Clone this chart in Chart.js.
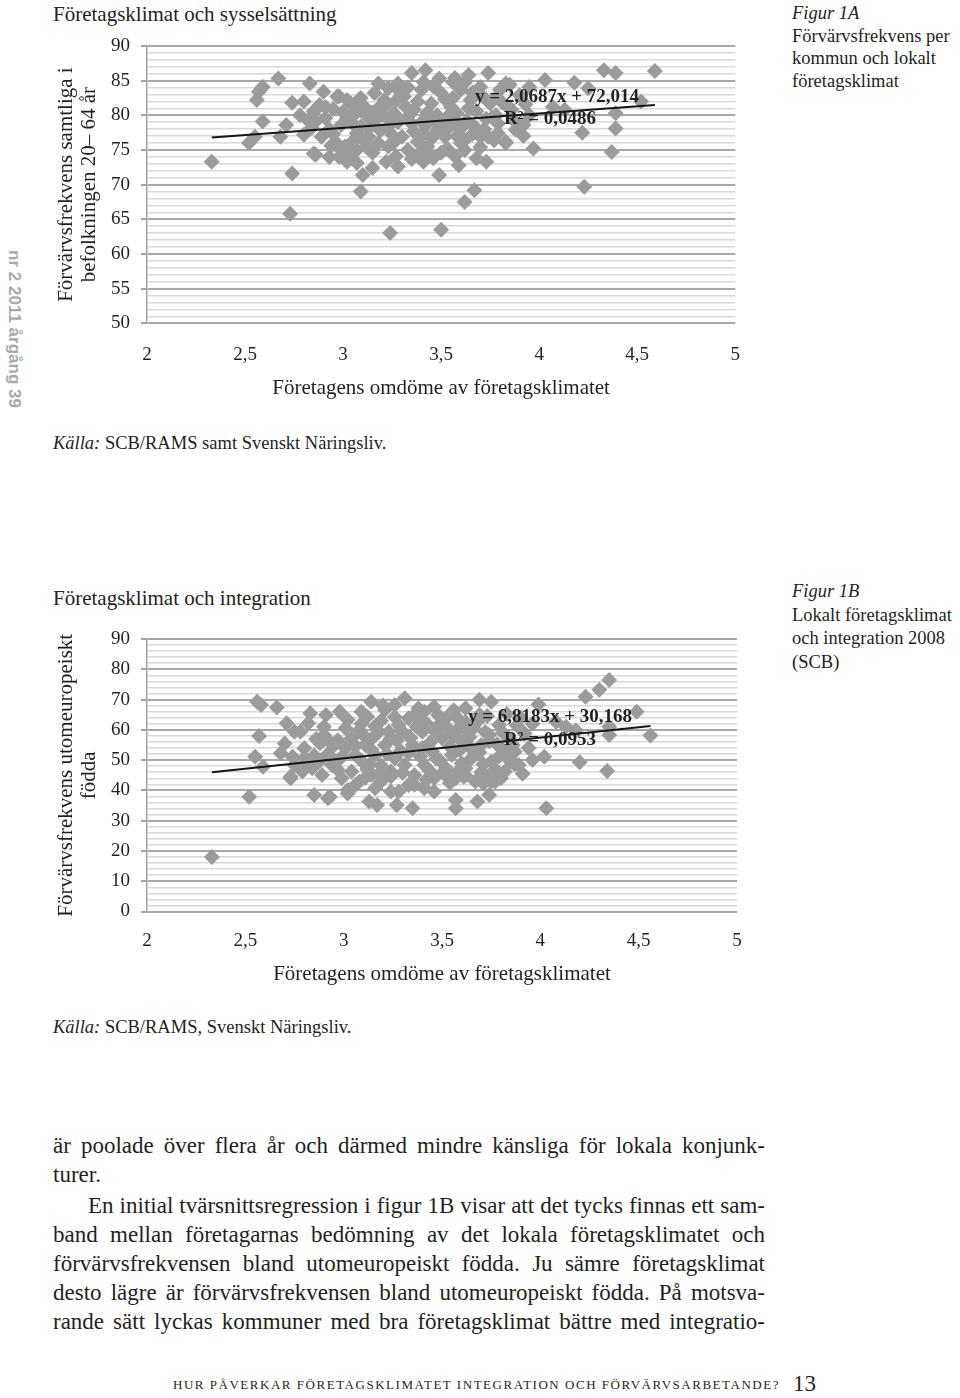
<!DOCTYPE html>
<html lang="sv">
<head>
<meta charset="utf-8">
<title>Figur 1A och 1B</title>
<script src="https://cdn.jsdelivr.net/npm/chart.js@4.4.0/dist/chart.umd.min.js"></script>
<style>
  html, body { margin: 0; padding: 0; background: #fff; }
  body { width: 960px; height: 1398px; position: relative; overflow: hidden;
         font-family: 'Liberation Serif', 'DejaVu Serif', serif; color: #231f20; }
  .abs { position: absolute; white-space: nowrap; }
  canvas { position: absolute; left: 0; }
  .eq { position: absolute; font-weight: bold; font-size: 19px; line-height: 22px;
        transform: translate(-50%, -50%); white-space: nowrap; z-index: 2; }
  .side { position: absolute; left: 792px; font-size: 18.5px; line-height: 22.7px; white-space: nowrap; }
  .line { position: absolute; left: 53px; width: 712px; font-size: 23px; line-height: 28px;
          text-align: justify; text-align-last: justify; white-space: nowrap; }
</style>
</head>
<body>

<div class="abs" style="left:14px;top:329px;transform:translate(-50%,-50%) rotate(90deg);font-family:'Liberation Sans',Arial,sans-serif;font-weight:bold;font-size:17px;color:#a7a9ac;">nr 2 2011 årgång 39</div>

<div class="abs" style="left:53px;top:2px;font-size:21px;line-height:24px;">Företagsklimat och sysselsättning</div>
<canvas id="c1" width="760" height="410" style="top:0"></canvas>
<div class="eq" style="left:557px;top:96px;">y = 2,0687x + 72,014</div>
<div class="eq" style="left:550px;top:118px;">R² = 0,0486</div>
<div class="side" style="top:2px;"><i>Figur 1A</i><br>Förvärvsfrekvens per<br>kommun och lokalt<br>företagsklimat</div>
<div class="abs" style="left:53px;top:431px;font-size:18.5px;line-height:24px;"><i>Källa:</i> SCB/RAMS samt Svenskt Näringsliv.</div>

<div class="abs" style="left:53px;top:586px;font-size:21px;line-height:24px;">Företagsklimat och integration</div>
<canvas id="c2" width="760" height="410" style="top:590px"></canvas>
<div class="eq" style="left:550px;top:716px;">y = 6,8183x + 30,168</div>
<div class="eq" style="left:550px;top:739px;">R² = 0,0953</div>
<div class="side" style="top:580px;line-height:23.7px;"><i>Figur 1B</i><br>Lokalt företagsklimat<br>och integration 2008<br>(SCB)</div>
<div class="abs" style="left:53px;top:1015px;font-size:18.5px;line-height:24px;"><i>Källa:</i> SCB/RAMS, Svenskt Näringsliv.</div>

<div class="line" style="top:1132px;">är poolade över flera år och därmed mindre känsliga för lokala konjunk-</div>
<div class="line" style="top:1161px;text-align:left;text-align-last:left;">turer.</div>
<div class="line" style="top:1192px;left:88px;width:677px;">En initial tvärsnittsregression i figur 1B visar att det tycks finnas ett sam-</div>
<div class="line" style="top:1221px;">band mellan företagarnas bedömning av det lokala företagsklimatet och</div>
<div class="line" style="top:1250px;">förvärvsfrekvensen bland utomeuropeiskt födda. Ju sämre företagsklimat</div>
<div class="line" style="top:1279px;">desto lägre är förvärvsfrekvensen bland utomeuropeiskt födda. På motsva-</div>
<div class="line" style="top:1308px;">rande sätt lyckas kommuner med bra företagsklimat bättre med integratio-</div>

<div id="foot" class="abs" style="left:173px;top:1377px;font-size:13px;line-height:16px;">HUR PÅVERKAR FÖRETAGSKLIMATET INTEGRATION OCH FÖRVÄRVSARBETANDE?</div>
<div class="abs" style="left:793px;top:1371px;font-size:23px;line-height:26px;">13</div>

<script>
// Figur 1A: företagens omdöme (x) mot förvärvsfrekvens 20-64 år (y)
var SYSS_PTS = [
  [2.33,73.3],[2.52,76.0],[2.55,76.9],[2.59,79.1],[2.56,82.2],[2.57,83.4],[2.59,84.1],[2.67,85.3],
  [2.74,81.8],[2.71,78.6],[2.68,76.9],[2.74,71.6],[2.73,65.8],[2.83,84.6],[2.90,83.4],[2.88,81.3],
  [2.91,81.2],[2.97,82.7],[3.02,82.2],[3.08,82.2],[3.11,81.2],[2.85,74.5],[2.93,74.0],[2.98,74.0],
  [3.02,73.3],[3.07,73.1],[3.10,71.4],[3.09,69.0],[3.15,72.4],[3.23,83.9],[3.22,73.3],[3.28,72.6],
  [3.35,86.1],[3.42,86.5],[3.49,85.3],[3.24,63.0],[3.50,63.5],[3.41,73.3],[3.46,73.8],[3.49,71.4],
  [3.62,67.5],[3.67,69.2],[3.59,72.8],[3.68,73.8],[3.73,73.3],[3.64,85.8],[3.74,86.1],[3.83,84.6],
  [3.83,76.0],[4.03,85.1],[4.18,84.7],[4.33,86.5],[4.39,86.1],[4.59,86.4],[4.52,82.0],[4.39,80.3],
  [4.39,78.1],[4.22,77.5],[3.97,75.2],[4.37,74.7],[4.23,69.7],[3.77,76.4],[3.70,76.9],[3.88,77.9],
  [3.92,78.6],[4.07,81.2],[4.13,80.8],[3.95,84.1],[3.85,84.4],[3.84,81.2],[3.29,83.4],[3.09,82.5],
  [4.25,83.9],
  [2.78,80.0],[2.82,79.3],[2.86,79.1],[2.91,79.6],[2.80,77.2],[2.89,76.9],[2.86,74.3],[2.99,75.0],
  [2.98,82.7],[3.04,81.7],[2.88,81.5],[2.96,76.2],[3.01,75.5],[3.04,76.0],[3.04,74.3],[2.99,78.6],
  [3.02,79.8],[3.07,77.4],
  [3.16,79.3],[3.13,76.9],[3.21,82.2],[3.26,80.3],[3.31,82.7],[3.36,80.8],[3.40,83.7],[3.45,81.7],
  [3.50,83.2],[3.55,81.2],[3.60,83.7],[3.65,82.2],[3.70,84.1],[3.75,81.7],[3.80,83.7],[3.23,78.4],
  [3.30,76.9],[3.35,78.8],[3.41,77.4],[3.46,79.3],[3.52,76.9],[3.57,78.8],[3.62,76.4],[3.67,78.4],
  [3.74,76.9],[3.79,78.8],[3.83,76.2],[3.23,75.5],[3.33,75.0],[3.43,75.5],[3.53,75.2],[3.62,75.0],
  [3.18,76.0],[3.07,75.0],[3.09,78.4],[3.28,84.6],[3.16,83.2],
  [3.18,81.0],[3.28,79.0],[3.38,82.0],[3.48,80.0],[3.58,80.3],[3.68,80.6],[3.78,80.0],[3.33,79.8],
  [3.43,80.4],[3.53,78.0],[3.63,79.2],[3.73,79.5],[3.20,80.0],[3.25,77.2],[3.38,76.2],[3.48,77.8],
  [3.58,77.0],[3.69,77.6],[3.13,78.1],[3.00,80.5],[2.93,78.0],[2.84,78.2],[3.06,80.2],[3.12,79.9],
  [3.40,79.0],[3.56,82.5],[3.46,84.2],[3.56,84.8],[3.33,84.0],[3.90,82.9],[3.95,80.0],[3.87,79.3],
  [3.93,81.6],[3.71,82.8],[3.62,84.7],[3.15,74.6],[3.27,74.1],[3.39,74.5],[3.57,74.1],[3.50,74.6],
  [2.80,82.0],[2.85,80.6],[2.95,80.9],[2.95,77.3],[3.05,78.8],[3.10,76.5],[3.19,77.8],[3.22,81.5],
  [3.27,82.1],[3.32,81.2],[3.36,77.7],[3.42,78.5],[3.45,76.6],[3.51,79.1],[3.54,80.0],[3.60,78.1],
  [3.64,81.0],[3.66,77.3],[3.72,78.0],[3.76,79.7],[3.81,81.9],[3.86,80.8],[3.78,82.6],[3.52,82.3],
  [3.41,84.8],[3.24,79.4],[3.15,80.4],[3.09,80.9],[2.94,75.6],[3.12,75.4],[3.26,76.1],[3.44,74.2],
  [3.60,76.0],[3.70,75.4],[3.79,77.4],[3.35,73.7],[3.57,85.4],[3.66,83.3],[3.92,77.0],[3.18,84.6]
];
var SYSS_TREND = [[2.33, 76.8], [4.59, 81.5]];

// Figur 1B: företagens omdöme (x) mot förvärvsfrekvens utomeuropeiskt födda (y)
var INTEG_PTS = [
  [2.33,18.0],[2.52,37.9],[2.56,69.3],[2.58,68.2],[2.66,67.4],[2.57,58.0],[2.55,51.1],[2.59,47.8],
  [2.68,52.3],[2.71,62.2],[2.78,59.4],[2.83,65.5],[2.82,62.2],[2.91,64.9],[2.98,66.0],[2.74,51.1],
  [2.80,50.6],[2.73,44.0],[2.85,38.5],[2.92,37.4],[3.02,39.0],[3.13,36.3],[3.17,35.2],[3.27,35.2],
  [3.35,34.1],[3.57,36.8],[3.57,34.1],[3.68,36.3],[3.74,38.5],[3.14,69.3],[3.21,66.6],[3.09,66.0],
  [3.12,64.3],[2.90,61.0],[2.90,58.3],[2.97,56.6],[3.01,60.5],[3.08,59.9],[2.88,55.6],[2.75,59.4],
  [3.69,69.9],[3.75,69.3],[3.62,67.1],[3.99,68.4],[4.02,51.1],[4.03,34.1],[3.33,41.8],[3.46,67.6],
  [3.41,66.0],[3.36,64.9],[4.35,76.5],[4.30,73.2],[4.23,70.9],[4.49,66.0],[4.35,61.0],[4.35,58.3],
  [4.56,58.1],[4.20,49.3],[4.34,46.4],[4.08,62.7],[4.13,61.0],[4.18,59.9],[3.87,48.6],[3.80,44.0],
  [3.75,42.9],[3.71,42.3],[3.61,44.5],[3.58,46.2],[3.46,44.5],[3.51,46.2],[2.73,44.5],[2.93,37.9],
  [3.02,40.1],[3.28,39.6],[3.46,39.6],[3.41,40.7],
  [2.79,46.2],[2.84,47.3],[2.89,45.1],[2.94,48.4],[2.99,44.0],[3.04,46.2],[3.08,42.9],[3.14,45.1],
  [3.19,42.9],[3.24,46.2],[3.01,53.9],[3.06,51.7],[3.11,55.0],[3.16,51.7],[3.21,55.0],[3.26,50.6],
  [2.96,49.5],[2.75,48.4],[2.80,53.9],[3.18,59.4],[3.23,59.4],[3.28,61.6],[3.04,57.2],[3.13,48.4],
  [3.06,41.8],[3.16,40.7],[3.24,39.6],
  [3.30,59.4],[3.35,55.0],[3.40,59.4],[3.45,52.8],[3.50,57.2],[3.55,51.7],[3.60,56.1],[3.65,50.6],
  [3.70,55.0],[3.75,49.5],[3.80,53.9],[3.85,49.5],[3.31,48.4],[3.36,45.1],[3.41,48.4],[3.46,44.0],
  [3.52,47.3],[3.57,44.0],[3.62,47.3],[3.67,42.9],[3.72,45.1],[3.77,42.9],[3.33,63.8],[3.38,67.1],
  [3.43,61.6],[3.48,64.9],[3.53,60.5],[3.58,63.8],[3.63,59.4],[3.68,62.7],[3.74,58.3],[3.79,61.6],
  [3.84,57.2],[3.87,52.8],[3.89,48.4],[3.26,68.2],[3.31,70.4],
  [2.85,51.5],[2.92,52.0],[2.97,46.8],[3.09,49.8],[3.19,48.2],[3.29,53.0],[3.39,51.2],[3.49,49.8],
  [3.59,53.3],[3.69,52.6],[3.79,51.2],[3.34,57.3],[3.44,55.8],[3.54,54.5],[3.64,57.6],[3.74,56.2],
  [3.24,57.2],[3.14,56.9],[3.09,62.0],[3.19,63.0],[3.44,46.3],[3.54,42.4],[3.62,44.9],[3.82,46.2],
  [3.71,48.6],[3.94,54.0],[3.92,58.8],[3.96,62.0],[3.58,60.2],[3.46,59.8],[3.14,53.5],[2.95,54.8],
  [2.86,57.0],[2.70,55.5],[3.36,41.9],[3.24,44.6],[3.11,44.2],[3.69,65.0],[3.56,66.5],[3.83,65.2],
  [3.90,64.0],
  [2.81,49.0],[2.88,49.9],[2.93,56.0],[2.99,51.0],[3.02,63.3],[3.06,54.7],[3.10,58.3],[3.12,47.0],
  [3.16,61.2],[3.18,45.5],[3.22,52.1],[3.27,56.5],[3.30,45.8],[3.33,52.4],[3.37,61.0],[3.40,54.0],
  [3.42,43.5],[3.47,50.5],[3.49,62.0],[3.52,44.8],[3.56,58.0],[3.60,49.0],[3.64,54.3],[3.66,60.5],
  [3.70,46.0],[3.72,59.3],[3.77,47.0],[3.78,55.2],[3.81,59.0],[3.84,51.5],[3.86,55.0],[3.88,61.4],
  [3.73,64.6],[3.62,62.5],[3.52,63.8],[3.40,63.2],[3.26,64.2],[3.20,68.0],[3.96,50.0],[3.91,45.5]
];
var INTEG_TREND = [[2.33, 46.0], [4.56, 61.3]];

var X_TITLE = 'Företagens omdöme av företagsklimatet';

var FONT_SERIF = "'Liberation Serif', 'DejaVu Serif', serif";
var INK = '#231f20';

function toXY(pairs) {
  return pairs.map(function (p) { return { x: p[0], y: p[1] }; });
}

function makeScatter(canvas, cfg) {
  var major = function (c) { return c.tick && c.tick.value % cfg.major === 0; };
  return new Chart(canvas.getContext('2d'), {
    type: 'scatter',
    data: {
      datasets: [
        {
          type: 'line',
          data: toXY(cfg.trend),
          borderColor: '#161616',
          borderWidth: 2,
          pointRadius: 0,
          fill: false,
          order: 0,
        },
        {
          data: toXY(cfg.points),
          pointStyle: 'rectRot',
          pointRadius: 8,
          pointBackgroundColor: '#9b9b9b',
          pointBorderWidth: 0,
          order: 1,
        },
      ],
    },
    options: {
      responsive: false,
      animation: false,
      layout: { padding: { left: 0, top: cfg.top, right: 23, bottom: 0 } },
      plugins: { legend: { display: false }, tooltip: { enabled: false } },
      scales: {
        x: {
          type: 'linear',
          min: 2,
          max: 5,
          afterFit: function (s) { s.height = cfg.xHeight; },
          grid: { display: false, drawTicks: false },
          border: { display: false },
          ticks: {
            stepSize: 0.5,
            autoSkip: false,
            maxRotation: 0,
            padding: cfg.xPad,
            color: INK,
            font: { family: FONT_SERIF, size: 19 },
            callback: function (v) { return String(v).replace('.', ','); },
          },
          title: {
            display: true,
            text: X_TITLE,
            color: INK,
            font: { family: FONT_SERIF, size: 21, lineHeight: 1.2 },
            padding: { top: 0, bottom: cfg.titlePad },
          },
        },
        y: {
          min: cfg.min,
          max: cfg.max,
          afterFit: function (s) { s.width = 147; },
          border: { display: true, color: '#a3a3a3', width: 1.5 },
          grid: {
            color: function (c) { return major(c) ? '#a8a8a8' : '#d8d8d8'; },
            lineWidth: function (c) { return major(c) ? 2 : 1.5; },
            tickColor: function (c) { return major(c) ? '#a3a3a3' : 'rgba(0,0,0,0)'; },
            tickLength: 6,
          },
          ticks: {
            stepSize: cfg.minor,
            autoSkip: false,
            padding: 11,
            color: INK,
            font: { family: FONT_SERIF, size: 19 },
            callback: function (v) { return v % cfg.major === 0 ? String(v) : ''; },
          },
          title: {
            display: true,
            text: cfg.yTitle,
            color: INK,
            font: { family: FONT_SERIF, size: 21, lineHeight: 1.1 },
            padding: { top: 55, bottom: 0 },
          },
        },
      },
    },
  });
}

makeScatter(document.getElementById('c1'), {
  points: SYSS_PTS, trend: SYSS_TREND,
  min: 50, max: 90, minor: 1, major: 5,
  top: 46, xHeight: 86.8, xPad: 20, titlePad: 8.6,
  yTitle: ['Förvärvsfrekvens samtliga i', 'befolkningen 20– 64 år'],
});

makeScatter(document.getElementById('c2'), {
  points: INTEG_PTS, trend: INTEG_TREND,
  min: 0, max: 90, minor: 2, major: 10,
  top: 49, xHeight: 88.5, xPad: 17.7, titlePad: 12.6,
  yTitle: ['Förvärvsfrekvens utomeuropeiskt', 'födda'],
});

// sidfoten spärras ut så att den fyller samma bredd som i originalet
(function () {
  var el = document.getElementById('foot');
  var text = el.textContent;
  var w = el.getBoundingClientRect().width;
  el.style.letterSpacing = ((607 - w) / text.length) + 'px';
})();
</script>
</body>
</html>
